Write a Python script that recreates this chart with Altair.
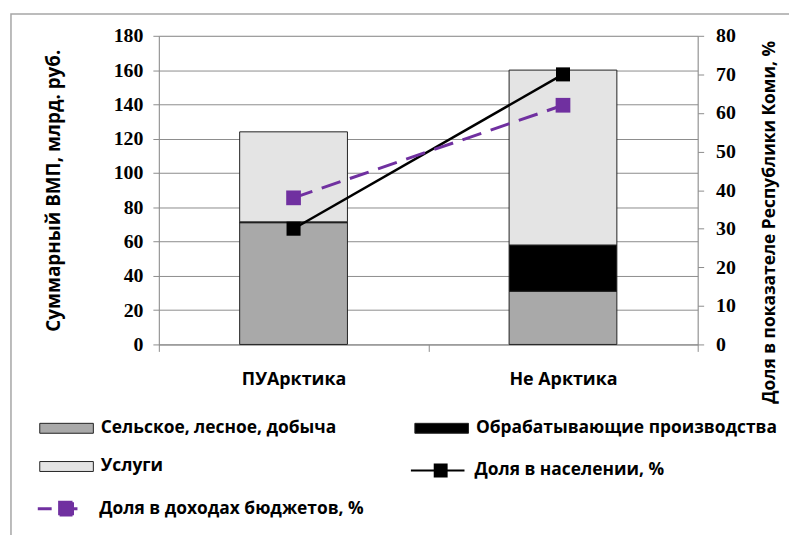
import altair as alt
import pandas as pd

categories = ["ПУАрктика", "Не Арктика"]
agri = [71, 31]
manuf = [0.5, 27]
services = [52.5, 102]
pop_share = [30, 70]
budget_share = [38, 62]

bar_series = ["Сельское, лесное, добыча", "Обрабатывающие производства", "Услуги"]
bar_colors = ["#a9a9a9", "#000000", "#e4e4e4"]
pop_name = "Доля в населении, %"
bud_name = "Доля в доходах бюджетов, %"
purple = "#7030a0"
axis_gray = "#8c8c8c"

rows = []
for i, c in enumerate(categories):
    for k, (s, vals) in enumerate(zip(bar_series, [agri, manuf, services])):
        rows.append({"cat": c, "series": s, "value": vals[i], "order": k})
bars_df = pd.DataFrame(rows)
pop_df = pd.DataFrame({"cat": categories, "val": pop_share, "series": pop_name})
bud_df = pd.DataFrame({"cat": categories, "val": budget_share, "series": bud_name})

SANS = "Open Sans"
SERIF = "Liberation Serif"

x_axis = alt.Axis(title=None, labelAngle=0, tickBand="extent", tickSize=7,
                  domainColor=axis_gray, tickColor=axis_gray, grid=False,
                  labelFont=SANS, labelFontSize=18, labelFontWeight="bold",
                  labelColor="black", labelPadding=19)
X = alt.X("cat:N", sort=categories, scale=alt.Scale(paddingInner=0, paddingOuter=0), axis=x_axis)

left_axis = alt.Axis(values=list(range(0, 181, 20)), grid=True, gridColor=axis_gray, gridWidth=1,
                     domainColor=axis_gray, tickColor=axis_gray, tickSize=6,
                     labelFont=SERIF, labelFontSize=20, labelFontWeight="bold", labelColor="black",
                     labelPadding=10, title="Суммарный ВМП, млрд. руб.", titleFont=SANS,
                     titleFontSize=19, titleFontWeight="bold", titleColor="black", titlePadding=50)
right_axis = alt.Axis(orient="right", values=list(range(0, 81, 10)), grid=False,
                      domainColor=axis_gray, tickColor=axis_gray, tickSize=6,
                      labelFont=SERIF, labelFontSize=20, labelFontWeight="bold", labelColor="black",
                      labelPadding=12, title="Доля в показателе Республики Коми, %", titleFont=SANS,
                      titleFontSize=17.5, titleFontWeight="bold", titleColor="black",
                      titleAngle=270, titleY=187.5, titlePadding=43)
right_scale = alt.Scale(domain=[0, 80], nice=False)

common_leg = dict(orient="none", title=None, symbolSize=400, labelFont=SANS, labelFontSize=17.5,
                  labelFontWeight="bold", labelColor="black", labelLimit=500, padding=0)

legA = alt.Legend(legendX=-120.5, legendY=385, columns=2, direction="horizontal",
                  columnPadding=76, rowPadding=19.5,
                  symbolType="M-1,-0.5H4.4V0.5H-1Z", symbolStrokeColor="#222", symbolStrokeWidth=1,
                  labelOffset=41, **common_leg)
legB = alt.Legend(legendX=253, legendY=427,
                  symbolType="M-1,0H4.4M1.4,-0.6H2.6V0.6H1.4Z", symbolStrokeColor="black",
                  symbolFillColor="black", symbolStrokeWidth=2, labelOffset=43, **common_leg)
legC = alt.Legend(legendX=-123.5, legendY=465,
                  symbolType="M-1,0H0.4M1.2,-0.65H2.5V0.65H1.2ZM2.5,0H3", symbolStrokeColor=purple,
                  symbolFillColor=purple, symbolStrokeWidth=3, symbolDash=[1, 0], labelOffset=40.5,
                  **common_leg)

frame = alt.Chart(pd.DataFrame({"a": [0]})).mark_rect(fill=None, stroke="#a6a6a6", strokeWidth=1.5).encode(
    x=alt.value(-149), x2=alt.value(660), y=alt.value(-22), y2=alt.value(520))

bars = alt.Chart(bars_df).mark_bar(width=alt.RelativeBandSize(0.4), stroke="#222", strokeWidth=1).encode(
    x=X,
    y=alt.Y("value:Q", stack="zero", scale=alt.Scale(domain=[0, 180], nice=False), axis=left_axis),
    fill=alt.Fill("series:N", scale=alt.Scale(domain=bar_series, range=bar_colors), legend=legA),
    order=alt.Order("order:Q"),
)

Yr = alt.Y("val:Q", scale=right_scale, axis=right_axis)
pop_line = alt.Chart(pop_df).mark_line(strokeWidth=2.5).encode(
    x=X, y=Yr,
    stroke=alt.Stroke("series:N", scale=alt.Scale(domain=[pop_name], range=["black"]), legend=legB))
bud_line = alt.Chart(bud_df).mark_line(strokeWidth=3, strokeDash=[20, 10]).encode(
    x=X, y=Yr,
    color=alt.Color("series:N", scale=alt.Scale(domain=[bud_name], range=[purple]), legend=legC))
pop_pts = alt.Chart(pop_df).mark_point(shape="square", filled=True, size=200, color="black", opacity=1).encode(
    x=X, y=Yr)
bud_pts = alt.Chart(bud_df).mark_point(shape="square", filled=True, size=220, color=purple, opacity=1).encode(
    x=X, y=Yr)

right = alt.layer(pop_line, bud_line, pop_pts, bud_pts)

chart = alt.layer(frame, bars, right).resolve_scale(y="independent").properties(
    width=543, height=311, autosize="none",
    padding={"left": 152, "top": 26, "right": 92, "bottom": 190},
).configure_view(stroke=None).configure(background="white")

chart.save("out.html", embed_options={"renderer": "svg", "actions": False})
